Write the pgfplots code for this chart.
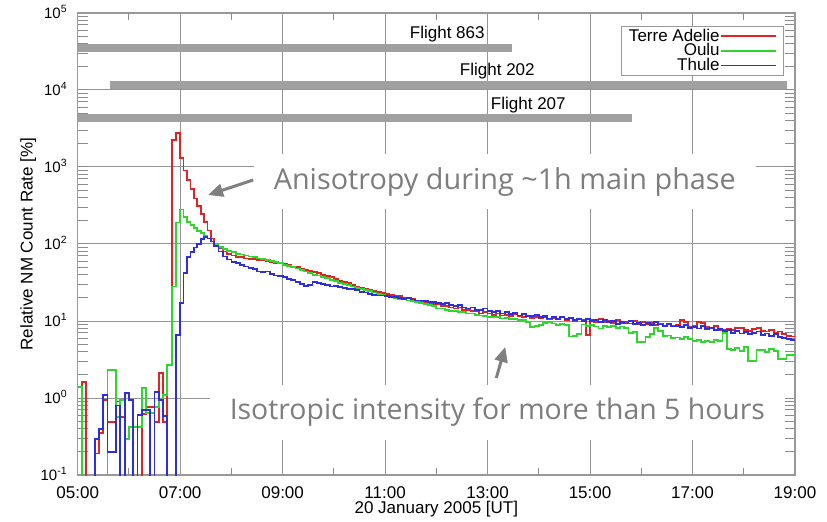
\documentclass[border=0pt]{standalone}
\usepackage{fontspec}
\setmainfont{Liberation Sans}
\newfontfamily\annfont{Open Sans}
\usepackage{pgfplots}
\usepackage{pgfplotstable}
\pgfplotsset{compat=1.18}
\usetikzlibrary{arrows.meta}
\definecolor{adelieRed}{RGB}{225,35,35}
\definecolor{ouluGreen}{RGB}{45,215,45}
\definecolor{thuleBlue}{RGB}{45,45,225}
\definecolor{barGray}{RGB}{160,160,160}
\definecolor{annGray}{RGB}{125,125,125}
\definecolor{arrGray}{RGB}{128,128,128}
\newcommand\tp[1]{10\textsuperscript{#1}}

\pgfplotstableread{
m v
0 0.01
5 1.6
10 0.01
15 0.01
20 0.19
25 0.35
30 0.95
35 0.49
40 0.49
45 0.9
50 0.57
55 0.01
60 0.01
65 0.01
70 0.01
75 0.62
80 0.77
85 0.77
90 0.49
95 2.1
100 0.49
105 2.7
110 2250
115 2760
120 1300
124 900
128 670
132 520
136 390
140 310
144 245
148 195
152 150
156 118
160 100
165 88
170 80
175 74
180 71
185 68
190 67
195 65
200 64
205 64
210 62
215 61
220 60
225 58
230 57
235 56
240 55
245 53
250 51
255 50
260 48
265 46
270 45
275 43
280 42
285 40
290 38
295 37
300 35
305 33
310 32
315 31
320 29.5
325 28
330 27
335 26.5
340 25.5
345 24.5
350 24
355 23
360 22.5
365 22
370 21
375 21
380 20
385 20
390 19.5
395 18.5
400 18
405 17.5
410 17
415 16.5
420 16.5
425 15.5
430 15.5
435 15
440 14.5
445 15
450 14
455 14
460 13.5
465 13.5
470 12.5
475 13
480 12.5
485 12
490 12.5
495 11.8
500 12
505 11.5
510 12.3
515 11.5
520 11.2
525 11.8
530 11
535 11.4
540 10.8
545 11.2
550 10.6
555 11
560 10.5
565 11.3
570 10.4
575 10.8
580 10
585 10.6
590 10.4
595 6.6
600 10.2
605 9.8
610 10.5
615 9.6
620 10
625 9.5
630 10.3
635 9.4
640 9.7
645 9.3
650 9.9
655 9.2
660 9.6
665 9.0
670 9.4
675 8.9
680 9.1
685 8.7
690 9.3
695 8.6
700 8.8
705 10.2
710 9.8
715 8.5
720 8.7
725 9.7
730 9.5
735 8.4
740 8.2
745 8.6
750 7.7
755 7.6
760 8.0
765 7.6
770 8.1
775 8.1
780 7.6
785 7.4
790 7.9
795 8.1
800 7.5
805 7.3
810 7.6
815 7.0
820 7.3
825 6.8
830 6.4
835 6.3
840 6.3
}\redtab

\pgfplotstableread{
m v
0 1.4
5 0.01
10 0.01
15 0.01
20 0.01
25 0.01
30 0.01
35 2.3
40 2.3
45 0.57
50 0.94
55 0.29
60 0.42
65 0.42
70 0.42
75 1.35
80 0.64
85 0.64
90 0.77
95 0.95
100 1.1
105 2.7
110 28
115 190
120 280
124 225
128 195
132 175
136 160
140 148
144 138
148 128
152 118
156 108
160 100
165 92
170 86
175 82
180 78
185 75
190 73
195 71
200 69
205 67
210 65
215 64
220 62
225 60
230 58
235 56
240 54
245 52
250 50
255 48
260 46
265 44
270 42
275 40
280 39
285 37
290 36
295 34
300 33
305 31
310 30
315 29
320 28
325 27
330 26
335 25
340 24.5
345 23.5
350 22.5
355 22
360 21.5
365 20.5
370 20
375 19.5
380 19
385 18.5
390 18
395 17.5
400 17
405 16.5
410 16
415 15.5
420 14.5
425 14.5
430 14
435 13.5
440 13.5
445 13
450 13
455 12.5
460 12.5
465 12
470 11.8
475 11.5
480 11.4
485 11.2
490 11.2
495 10.8
500 11
505 10.5
510 10.5
515 10.2
520 10.3
525 9.6
530 8.4
535 8.6
540 8.8
545 9.4
550 9.6
555 9.3
560 8.8
565 9.2
570 8.9
575 6.3
580 6.4
585 6.7
590 9.0
595 8.7
600 8.8
605 8.5
610 8.0
615 8.6
620 8.3
625 8.7
630 8.2
635 8.5
640 8.1
645 7.0
650 7.2
655 5.4
660 5.3
665 6.2
670 6.8
675 8.2
680 7.5
685 6.4
690 6.5
695 6.0
700 6.1
705 5.9
710 6.2
715 5.8
720 5.5
725 5.6
730 5.3
735 5.5
740 5.4
745 5.7
750 5.5
755 7.0
760 4.3
765 4.2
770 4.5
775 4.1
780 4.6
785 3.0
790 3.0
795 4.2
800 4.2
805 4.0
810 4.3
815 4.1
820 3.2
825 3.2
830 3.6
835 3.6
840 3.6
}\greentab

\pgfplotstableread{
m v
0 0.01
5 0.01
10 0.01
15 0.01
20 0.29
25 0.4
30 1.1
35 0.2
40 0.2
45 0.8
50 0.01
55 1.15
60 0.95
65 0.01
70 0.6
75 0.7
80 0.7
85 0.01
90 1.2
95 0.95
100 0.58
105 0.01
110 0.01
115 6.6
120 17
124 42
128 68
132 78
136 90
140 100
144 115
148 123
152 118
156 108
160 95
165 80
170 69
175 63
180 59
185 56
190 54
195 51
200 49
205 47
210 44
215 43
220 44
225 41
230 39
235 38
240 37
245 35
250 34
255 32
260 30
265 28.5
270 29
275 32
280 31
285 30
290 29
295 28
300 28.5
305 27.5
310 27
315 26
320 26
325 25
330 24
335 23.5
340 22.5
345 22
350 21.5
355 21.5
360 21
365 20.5
370 20.5
375 20
380 19.5
385 20
390 19
395 18.5
400 18.5
405 18
410 17.5
415 17.5
420 17
425 16.5
430 17
435 16
440 15.5
445 16
450 15
455 14.5
460 15
465 14
470 14
475 14.5
480 13.5
485 13
490 13.5
495 12.5
500 13
505 12.2
510 12.8
515 11.8
520 12.4
525 11.6
530 11.6
535 12
540 11.2
545 11.6
550 10.8
555 11.4
560 10.7
565 11.2
570 10.5
575 10.9
580 10.3
585 10.7
590 10.1
595 10.6
600 10
605 10.4
610 9.7
615 10.2
620 9.6
625 9.9
630 9.2
635 9.6
640 9.3
645 9.9
650 9.1
655 9.5
660 8.9
665 9.4
670 8.8
675 9.6
680 9.0
685 8.7
690 9.2
695 8.5
700 8.7
705 8.3
710 8.9
715 8.2
720 8.4
725 8.0
730 8.6
735 7.8
740 8.1
745 7.6
750 7.9
755 7.4
760 7.7
765 7.0
770 7.4
775 6.9
780 7.2
785 6.7
790 7.0
795 7.3
800 6.6
805 6.9
810 6.4
815 6.7
820 6.2
825 6.0
830 5.8
835 5.6
840 5.6
}\bluetab

\begin{document}
\begin{tikzpicture}
\begin{axis}[
  at={(0,0)}, anchor=south west,
  scale only axis, width=358.65pt, height=231pt,
  xmin=0, xmax=840, ymode=log, ymin=0.1, ymax=1e5,
  xtick={0,120,...,840},
  xticklabels={05:00,07:00,09:00,11:00,13:00,15:00,17:00,19:00},
  extra x ticks={60,180,...,780}, extra x tick labels={},
  extra x tick style={grid=none, major tick length=3.5pt},
  ytick={1e-1,1,10,100,1000,10000,100000},
  yticklabels={\tp{-1},\tp{0},\tp{1},\tp{2},\tp{3},\tp{4},\tp{5}},
  grid=major,
  major grid style={black!42, line width=0.5pt},
  axis line style={black!40, line width=0.6pt},
  tick style={black!45, line width=0.5pt},
  major tick length=0pt, minor tick length=5pt,
  xticklabel style={font=\fontsize{8.5}{10}\selectfont, anchor=north, yshift=-2.2pt},
  yticklabel style={font=\fontsize{7.5}{9}\selectfont, anchor=base east, yshift=-2.7pt, xshift=-1.5pt},
  xlabel={20 January 2005 [UT]},
  xlabel style={font=\fontsize{8.5}{10}\selectfont, at={(axis description cs:0.5,0)}, anchor=north, inner sep=0pt, yshift=-13pt},
  ylabel={Relative NM Count Rate [\%]},
  every axis y label/.style={font=\fontsize{8.5}{10}\selectfont, at={(axis description cs:-0.0628,0.5)}, rotate=90, anchor=base},
  legend style={at={(rel axis cs:0.9847,0.9719)}, anchor=north east, draw=black!40, line width=0.5pt,
    font=\fontsize{8.5}{7}\selectfont, inner xsep=3.5pt, inner ysep=1.3pt, row sep=0pt,
    nodes={inner ysep=0.2pt, inner xsep=0pt, text height=5.9pt, text depth=1pt},
    /tikz/every even column/.append style={column sep=3.5pt}},
  legend cell align=right,
  legend plot pos=right,
]
\addlegendimage{legend image code/.code={\draw[adelieRed, line width=0.9pt] (0pt,0pt) -- (27.5pt,0pt);}}
\addlegendentry{Terre Adelie}
\addlegendimage{legend image code/.code={\draw[ouluGreen, line width=0.9pt] (0pt,0pt) -- (27.5pt,0pt);}}
\addlegendentry{Oulu}
\addlegendimage{legend image code/.code={\draw[thuleBlue, line width=0.9pt] (0pt,0pt) -- (27.5pt,0pt);}}
\addlegendentry{Thule}

\addplot[forget plot, barGray, line width=4pt] coordinates {(0,3.5e4) (509,3.5e4)};
\addplot[forget plot, barGray, line width=4pt] coordinates {(38,1.15e4) (831,1.15e4)};
\addplot[forget plot, barGray, line width=4pt] coordinates {(0,4.3e3) (649,4.3e3)};

\addplot[forget plot, const plot, adelieRed, line width=0.9pt] table[x=m, y=v] {\redtab};
\addplot[forget plot, const plot, ouluGreen, line width=0.9pt] table[x=m, y=v] {\greentab};
\addplot[forget plot, const plot, thuleBlue, line width=0.9pt] table[x=m, y=v] {\bluetab};

\node[font=\fontsize{8.5}{10}\selectfont, anchor=base] at (axis cs:432.8,4.6e4) {Flight 863};
\node[font=\fontsize{8.5}{10}\selectfont, anchor=base] at (axis cs:491.4,1.52e4) {Flight 202};
\node[font=\fontsize{8.5}{10}\selectfont, anchor=base] at (axis cs:527.7,5.66e3) {Flight 207};

\node[fill=white, inner xsep=10pt, inner ysep=6.5pt, anchor=base west, text=annGray,
  font=\annfont\fontsize{14.4}{16}\selectfont] at (axis cs:205.8,513) {Anisotropy during \textasciitilde 1h main phase};
\node[fill=white, inner xsep=10pt, inner ysep=6.5pt, anchor=base west, text=annGray,
  font=\annfont\fontsize{14.2}{16}\selectfont] at (axis cs:154.2,0.518) {Isotropic intensity for more than 5 hours};

\draw[arrGray, line width=1.5pt, -{Triangle[length=7.5pt,width=6.5pt]}] (axis cs:205.6,678) -- (axis cs:152.7,433);
\draw[arrGray, line width=1.5pt, -{Triangle[length=7.5pt,width=6.5pt]}] (axis cs:490.2,1.82) -- (axis cs:500.7,4.6);
\end{axis}
\pgfresetboundingbox
\path[use as bounding box] (-38.85pt,-23pt) rectangle (374.65pt,237.5pt);
\end{tikzpicture}
\end{document}
